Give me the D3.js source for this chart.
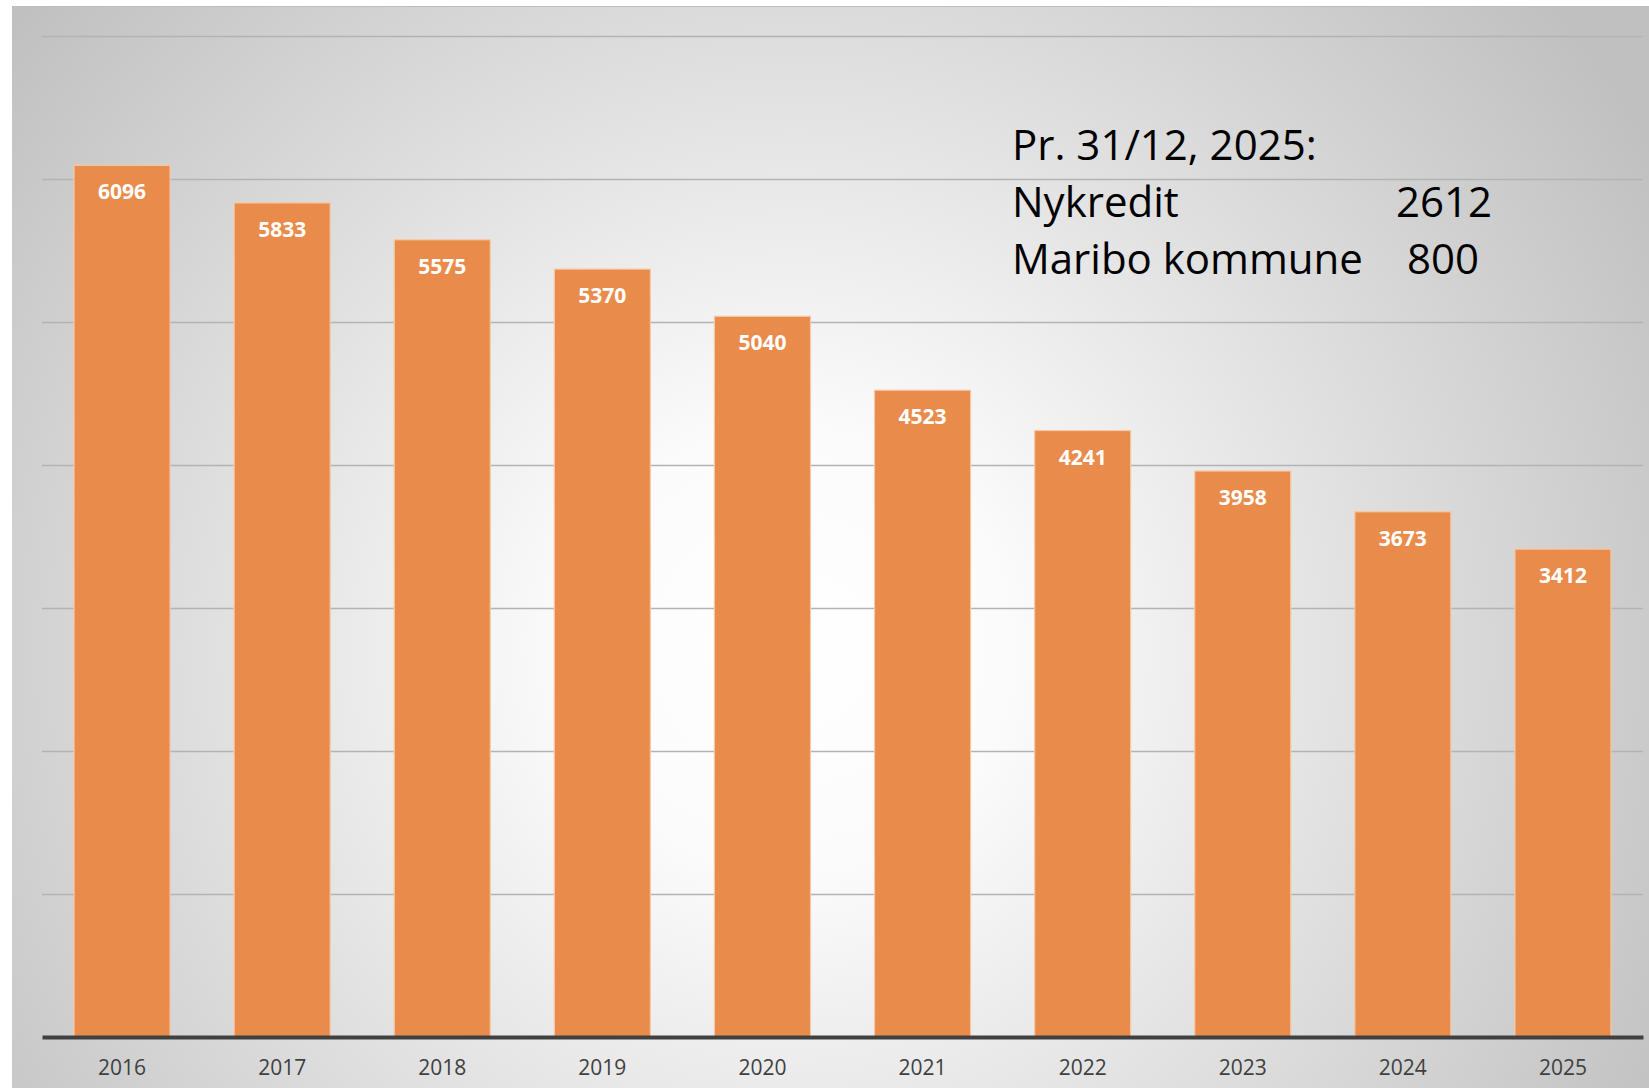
<!DOCTYPE html>
<html>
<head>
<meta charset="utf-8">
<script src="https://cdn.jsdelivr.net/npm/d3@7"></script>
<style>
  html, body { margin: 0; padding: 0; background: #fff; }
  svg { display: block; }
</style>
</head>
<body>
<svg id="chart" width="1649" height="1091"></svg>
<script>
// data
var years = ["2016", "2017", "2018", "2019", "2020", "2021", "2022", "2023", "2024", "2025"]
var counts = [6096, 5833, 5575, 5370, 5040, 4523, 4241, 3958, 3673, 3412]
var gridValues = [1000, 2000, 3000, 4000, 5000, 6000, 7000]
var noteLabels = ["Pr. 31/12, 2025:", "Nykredit", "Maribo kommune"]
var noteValues = ["", "2612", "800"]

var width = 1649, height = 1091
var plot = {left: 42, right: 1643, top: 36, bottom: 1037}
var font = "'Open Sans', 'Liberation Sans', sans-serif"

var svg = d3.select("#chart")

/* background panel with radial gradient */
var defs = svg.append("defs")
var grad = defs.append("radialGradient")
    .attr("id", "bg")
    .attr("gradientUnits", "userSpaceOnUse")
    .attr("cx", 790).attr("cy", 650).attr("r", 1000)
grad.append("stop").attr("offset", "0%").attr("stop-color", "#ffffff")
grad.append("stop").attr("offset", "22%").attr("stop-color", "#fbfbfb")
grad.append("stop").attr("offset", "100%").attr("stop-color", "#c0c0c0")

svg.append("rect")
    .attr("x", 12).attr("y", 6)
    .attr("width", width - 12).attr("height", 1082)
    .attr("fill", "url(#bg)")
svg.append("line")
    .attr("x1", 12).attr("x2", width)
    .attr("y1", 6.5).attr("y2", 6.5)
    .attr("stroke", "#bdbdbd").attr("stroke-width", 1)

var x = d3.scaleBand()
    .domain(years)
    .range([plot.left, plot.right])
    .paddingInner(0.4)
    .paddingOuter(0.2)

var y = d3.scaleLinear()
    .domain([0, 7000])
    .range([plot.bottom, plot.top])

/* gridlines */
var grid = svg.append("g")
    .attr("transform", "translate(" + plot.left + ",0)")
    .call(d3.axisLeft(y).tickValues(gridValues).tickSize(-(plot.right - plot.left)).tickFormat(""))
grid.select(".domain").remove()
grid.selectAll(".tick line")
    .attr("stroke", "#b3b3b3")
    .attr("stroke-width", 1.5)

/* bars */
svg.selectAll(".bar")
    .data(counts)
  .enter().append("rect")
    .attr("class", "bar")
    .attr("x", function(d, i) { return x(years[i]) })
    .attr("y", function(d) { return y(d) })
    .attr("width", x.bandwidth())
    .attr("height", function(d) { return y(0) - y(d) })
    .attr("fill", "#e98b4b")
    .attr("stroke", "#f6c9a6")
    .attr("stroke-width", 1.2)

/* value labels */
svg.selectAll(".value")
    .data(counts)
  .enter().append("text")
    .attr("class", "value")
    .attr("x", function(d, i) { return x(years[i]) + x.bandwidth() / 2 })
    .attr("y", function(d) { return y(d) + 34 })
    .attr("text-anchor", "middle")
    .attr("font-family", font)
    .attr("font-weight", "bold")
    .attr("font-size", 21)
    .attr("fill", "#ffffff")
    .text(function(d) { return d })

/* x axis */
var xAxis = svg.append("g")
    .attr("transform", "translate(0," + plot.bottom + ")")
    .call(d3.axisBottom(x).tickSize(0).tickSizeOuter(0).tickPadding(23))
xAxis.select(".domain")
    .attr("stroke", "#404040")
    .attr("stroke-width", 4)
xAxis.selectAll("text")
    .attr("font-family", font)
    .attr("font-size", 21)
    .attr("fill", "#404040")

/* note */
var note = svg.append("g").attr("class", "note")
note.selectAll(".note-label")
    .data(noteLabels)
  .enter().append("text")
    .attr("x", 1012)
    .attr("y", function(d, i) { return 160 + i * 57 })
    .attr("font-family", font)
    .attr("font-size", 42)
    .attr("fill", "#000")
    .text(function(d) { return d })
note.selectAll(".note-value")
    .data(noteValues)
  .enter().append("text")
    .attr("x", function(d, i) { return i == 2 ? 1407 : 1396 })
    .attr("y", function(d, i) { return 160 + i * 57 })
    .attr("font-family", font)
    .attr("font-size", 42)
    .attr("fill", "#000")
    .text(function(d) { return d })
</script>
</body>
</html>
